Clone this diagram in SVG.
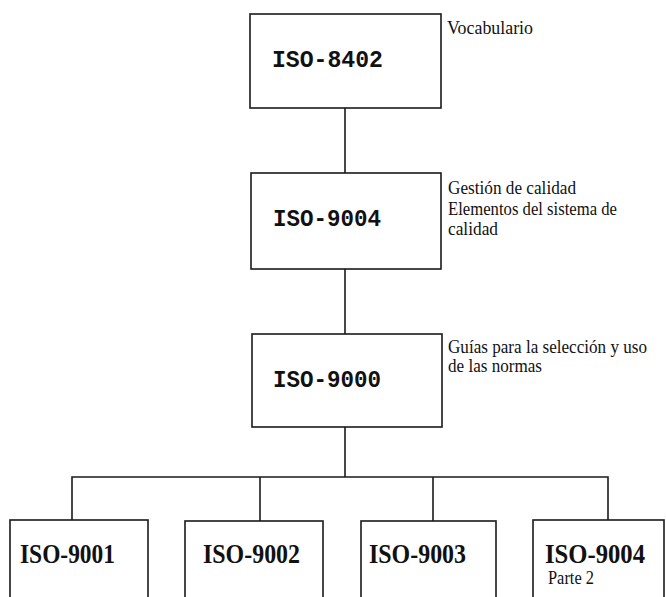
<svg xmlns="http://www.w3.org/2000/svg" width="666" height="597" viewBox="0 0 666 597">
  <style>
    .box { fill: #fff; stroke: #1a1a1a; stroke-width: 1.6; }
    .wire { fill: none; stroke: #1a1a1a; stroke-width: 1.6; }
    .mono { font-family: "Liberation Mono", "Courier New", monospace; font-weight: bold; font-size: 23px; fill: #111; }
    .code { font-family: "Liberation Serif", "Times New Roman", serif; font-weight: bold; font-size: 28px; fill: #111; }
    .note { font-family: "Liberation Serif", "Times New Roman", serif; font-size: 18px; fill: #111; }
    .sub { font-family: "Liberation Serif", "Times New Roman", serif; font-size: 18px; fill: #111; }
  </style>
  <rect width="666" height="597" fill="#fff"/>

  <!-- connectors -->
  <g id="connectors">
    <line class="wire" x1="345" y1="108" x2="345" y2="173"/>
    <line class="wire" x1="345" y1="269" x2="345" y2="334"/>
    <line class="wire" x1="345" y1="427" x2="345" y2="477"/>
    <polyline class="wire" points="72,520 72,477 608,477 608,520"/>
    <line class="wire" x1="260" y1="477" x2="260" y2="521"/>
    <line class="wire" x1="433" y1="477" x2="433" y2="521"/>
  </g>

  <!-- vertical chain -->
  <g id="iso8402">
    <rect class="box" x="250" y="14" width="191" height="94"/>
    <text class="mono" x="272" y="67" textLength="111" lengthAdjust="spacingAndGlyphs">ISO-8402</text>
    <text class="note" x="447" y="34" textLength="86" lengthAdjust="spacingAndGlyphs">Vocabulario</text>
  </g>

  <g id="iso9004">
    <rect class="box" x="251" y="173" width="190" height="96"/>
    <text class="mono" x="273" y="226" textLength="108" lengthAdjust="spacingAndGlyphs">ISO-9004</text>
    <text class="note" x="448" y="194" textLength="128" lengthAdjust="spacingAndGlyphs">Gestión de calidad</text>
    <text class="note" x="448" y="214.5" textLength="169" lengthAdjust="spacingAndGlyphs">Elementos del sistema de</text>
    <text class="note" x="448" y="235" textLength="50" lengthAdjust="spacingAndGlyphs">calidad</text>
  </g>

  <g id="iso9000">
    <rect class="box" x="252" y="334" width="190" height="93"/>
    <text class="mono" x="273" y="387" textLength="108" lengthAdjust="spacingAndGlyphs">ISO-9000</text>
    <text class="note" x="448" y="353" textLength="199" lengthAdjust="spacingAndGlyphs">Guías para la selección y uso</text>
    <text class="note" x="448" y="372" textLength="94" lengthAdjust="spacingAndGlyphs">de las normas</text>
  </g>

  <!-- bottom row -->
  <g id="iso9001">
    <rect class="box" x="10" y="520" width="138" height="90"/>
    <text class="code" x="20" y="563" textLength="95" lengthAdjust="spacingAndGlyphs">ISO-9001</text>
  </g>

  <g id="iso9002">
    <rect class="box" x="185" y="521" width="138" height="90"/>
    <text class="code" x="203" y="563" textLength="97" lengthAdjust="spacingAndGlyphs">ISO-9002</text>
  </g>

  <g id="iso9003">
    <rect class="box" x="361" y="521" width="135" height="90"/>
    <text class="code" x="369" y="563" textLength="97" lengthAdjust="spacingAndGlyphs">ISO-9003</text>
  </g>

  <g id="iso9004-2">
    <rect class="box" x="533" y="520" width="131" height="90"/>
    <text class="code" x="545" y="563" textLength="100" lengthAdjust="spacingAndGlyphs">ISO-9004</text>
    <text class="sub" x="548" y="584" textLength="46" lengthAdjust="spacingAndGlyphs">Parte 2</text>
  </g>
</svg>
